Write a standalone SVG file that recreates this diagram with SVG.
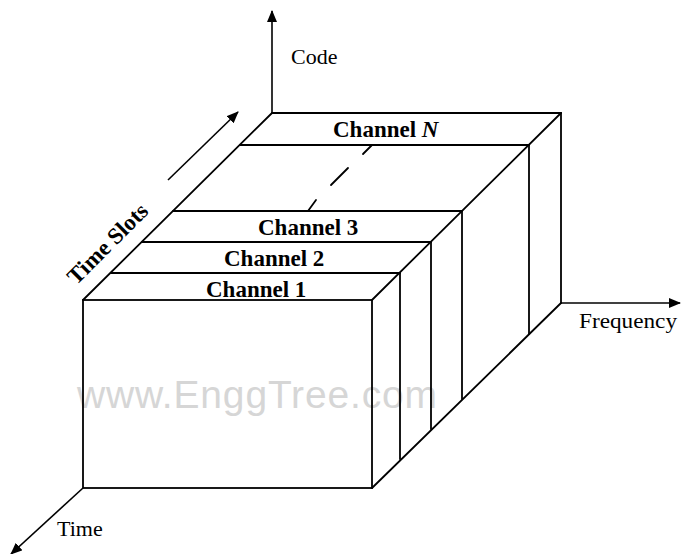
<svg xmlns="http://www.w3.org/2000/svg" width="681" height="554" viewBox="0 0 681 554">
<style>
.ln{stroke:#000;stroke-width:1.8;fill:none;stroke-linecap:round}
.ax{stroke:#000;stroke-width:1.6;fill:none}
.lbl{font-family:"Liberation Serif","Times New Roman",serif;font-size:22px;fill:#000}
.ch{font-family:"Liberation Serif","Times New Roman",serif;font-size:23px;font-weight:bold;fill:#000}
.wm{font-family:"Liberation Sans",Arial,sans-serif;font-size:39px;fill:#d6d6d6}
</style>
<defs>
<marker id="arr" viewBox="0 0 12 10" refX="11" refY="5" markerWidth="12" markerHeight="10" markerUnits="userSpaceOnUse" orient="auto">
<path d="M0,0 L12,5 L0,10 z" fill="#000"/>
</marker>
</defs>
<rect width="681" height="554" fill="#fff"/>
<text class="wm" x="77" y="408" textLength="360" lengthAdjust="spacing">www.EnggTree.com</text>
<g id="box">
<rect class="ln" x="83" y="300" width="289" height="188"/>
<line class="ln" x1="83" y1="300" x2="272" y2="113"/>
<line class="ln" x1="272" y1="113" x2="561" y2="113"/>
<line class="ln" x1="372" y1="300" x2="561" y2="113"/>
<line class="ln" x1="561" y1="113" x2="561" y2="303"/>
<line class="ln" x1="372" y1="488" x2="561" y2="303"/>
</g>
<g id="channel-1">
<line class="ln" x1="111" y1="273" x2="400" y2="273"/>
<line class="ln" x1="400" y1="273" x2="400" y2="459"/>
<text class="ch" x="206" y="297">Channel 1</text>
</g>
<g id="channel-2">
<line class="ln" x1="142" y1="242" x2="431" y2="242"/>
<line class="ln" x1="431" y1="242" x2="431" y2="429"/>
<text class="ch" x="224" y="266">Channel 2</text>
</g>
<g id="channel-3">
<line class="ln" x1="173" y1="211" x2="462" y2="211"/>
<line class="ln" x1="462" y1="211" x2="462" y2="399"/>
<text class="ch" x="258" y="235">Channel 3</text>
</g>
<g id="channel-n">
<line class="ln" x1="240" y1="145" x2="529" y2="145"/>
<line class="ln" x1="529" y1="145" x2="529" y2="334"/>
<text class="ch" x="333" y="137">Channel <tspan font-style="italic">N</tspan></text>
</g>
<g id="ellipsis">
<line class="ln" x1="372" y1="145" x2="363" y2="154"/>
<line class="ln" x1="348" y1="168" x2="331" y2="185"/>
<line class="ln" x1="316" y1="200" x2="308" y2="211"/>
</g>
<g id="connectors">
<line class="ax" x1="272" y1="113" x2="272" y2="11" marker-end="url(#arr)"/>
<line class="ax" x1="561" y1="303" x2="680" y2="303" marker-end="url(#arr)"/>
<line class="ax" x1="83" y1="488" x2="11" y2="554" marker-end="url(#arr)"/>
<line class="ax" x1="168" y1="180" x2="238" y2="112" marker-end="url(#arr)"/>
</g>
<g id="labels">
<text class="lbl" x="291" y="64">Code</text>
<text class="lbl" x="579" y="328" textLength="98" lengthAdjust="spacingAndGlyphs">Frequency</text>
<text class="lbl" x="57" y="536">Time</text>
<text class="ch" x="113" y="249" text-anchor="middle" font-size="24" transform="rotate(-45 113 249)">Time Slots</text>
</g>
</svg>
